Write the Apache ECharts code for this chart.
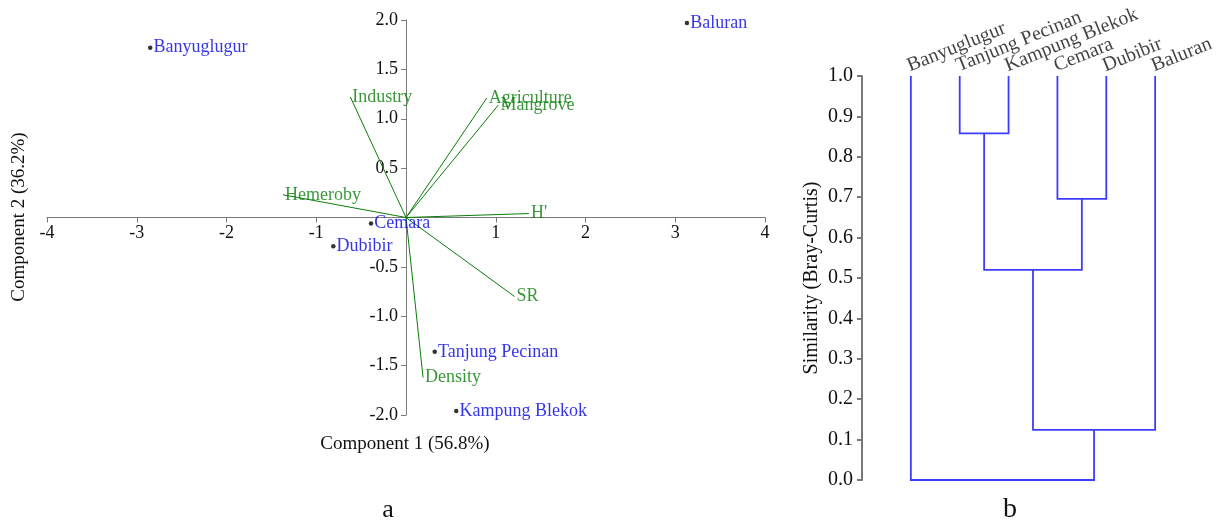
<!DOCTYPE html>
<html lang="en">
<head>
    <meta charset="UTF-8">
    <title>PCA biplot and dendrogram</title>
    <script type="text/javascript" src="https://cdnjs.cloudflare.com/ajax/libs/echarts/6.0.0/echarts.min.js"></script>
    <style>
        html, body { margin: 0; padding: 0; background: #fff; }
    </style>
</head>
<body>

<div id="main" style="width:1220px;height:523px"></div>
<script type="text/javascript">

    // panel a: site scores
    var siteNames = ['Banyuglugur', 'Baluran', 'Cemara', 'Dubibir', 'Tanjung Pecinan', 'Kampung Blekok'];
    var siteX = [-2.85, 3.13, -0.39, -0.81, 0.32, 0.56];
    var siteY = [1.72, 1.97, -0.06, -0.29, -1.36, -1.96];

    // panel a: variable loadings (arrows from origin)
    var varNames = ['Industry', 'Hemeroby', 'Agriculture', 'Mangrove', "H'", 'SR', 'Density'];
    var varX = [-0.62, -1.37, 0.90, 1.03, 1.37, 1.21, 0.19];
    var varY = [1.22, 0.23, 1.21, 1.14, 0.04, -0.80, -1.62];

    var xTicks = [-4, -3, -2, -1, 1, 2, 3, 4];
    var yTicks = [-2.0, -1.5, -1.0, -0.5, 0.5, 1.0, 1.5, 2.0];

    // panel b: dendrogram (Bray-Curtis similarity)
    var leafNames = ['Banyuglugur', 'Tanjung Pecinan', 'Kampung Blekok', 'Cemara', 'Dubibir', 'Baluran'];
    var joinA = ['Tanjung Pecinan', 'Cemara', 'M1', 'M3', 'Banyuglugur'];
    var joinB = ['Kampung Blekok', 'Dubibir', 'M2', 'Baluran', 'M4'];
    var joinHeight = [0.858, 0.696, 0.52, 0.124, 0.0];

    var serif = "'Liberation Serif', 'Times New Roman', serif";
    var green = '#0a7d0a';
    var blue = '#0000e6';
    var axisGray = '#7a7a7a';

    // grid of panel a (axes cross at the origin, in the middle of the grid)
    var gA = {left: 47, right: 455, top: 20, bottom: 108};
    var gAw = 1220 - gA.left - gA.right;
    var gAh = 523 - gA.top - gA.bottom;

    var chartDom = document.getElementById('main');
    var myChart = echarts.init(chartDom);

    var sitePoints = siteNames.map(function (n, i) { return {name: n, value: [siteX[i], siteY[i]]}; });
    var arrows = varNames.map(function (n, i) { return {coords: [[0, 0], [varX[i], varY[i]]]}; });
    var arrowEnds = varNames.map(function (n, i) { return {name: n, value: [varX[i], varY[i]]}; });

    // build dendrogram links
    var nodes = {};
    leafNames.forEach(function (n, i) { nodes[n] = {x: i + 1, h: 1.0}; });
    var links = [];
    joinA.forEach(function (a, k) {
        var A = nodes[a], B = nodes[joinB[k]], h = joinHeight[k];
        links.push({coords: [[A.x, A.h], [A.x, h], [B.x, h], [B.x, B.h]]});
        nodes['M' + (k + 1)] = {x: (A.x + B.x) / 2, h: h};
    });
    var leafPoints = leafNames.map(function (n, i) { return {name: n, value: [i + 1, 1.0]}; });

    var option = {
        animation: false,
        textStyle: {fontFamily: serif},
        grid: [
            gA,
            {left: 862, right: 16, top: 76, bottom: 43}
        ],
        xAxis: [
            {
                gridIndex: 0, type: 'value', min: -4, max: 4, interval: 1,
                offset: -gAh / 2,
                axisLine: {onZero: false, lineStyle: {color: axisGray, width: 1}},
                axisTick: {show: true, length: 5, lineStyle: {color: axisGray}},
                axisLabel: {
                    margin: 7, color: '#111', fontSize: 18, fontFamily: serif,
                    formatter: function (v) { return xTicks.indexOf(v) >= 0 ? String(v) : ''; }
                },
                splitLine: {show: false}
            },
            {
                gridIndex: 1, type: 'value', min: 0, max: 7, show: false
            }
        ],
        yAxis: [
            {
                gridIndex: 0, type: 'value', min: -2, max: 2, interval: 0.5,
                offset: -gAw / 2,
                axisLine: {onZero: false, lineStyle: {color: axisGray, width: 1}},
                axisTick: {show: true, length: 5, lineStyle: {color: axisGray}},
                axisLabel: {
                    margin: 8, color: '#111', fontSize: 18, fontFamily: serif,
                    formatter: function (v) { return yTicks.indexOf(v) >= 0 ? v.toFixed(1) : ''; }
                },
                splitLine: {show: false}
            },
            {
                gridIndex: 1, type: 'value', min: 0, max: 1, interval: 0.1,
                axisLine: {show: true, lineStyle: {color: axisGray, width: 2}},
                axisTick: {show: true, length: 5, lineStyle: {color: axisGray, width: 2}},
                axisLabel: {
                    margin: 9, color: '#111', fontSize: 20, fontFamily: serif,
                    formatter: function (v) { return v.toFixed(1); }
                },
                splitLine: {show: false}
            }
        ],
        graphic: [
            {type: 'text', x: 405, y: 444, style: {text: 'Component 1 (56.8%)', font: '19px ' + serif, fill: '#111', textAlign: 'center', textVerticalAlign: 'middle'}},
            {type: 'text', x: 19, y: 217, rotation: Math.PI / 2, style: {text: 'Component 2 (36.2%)', font: '19px ' + serif, fill: '#111', textAlign: 'center', textVerticalAlign: 'middle'}},
            {type: 'text', x: 812, y: 278, rotation: Math.PI / 2, style: {text: 'Similarity (Bray-Curtis)', font: '20px ' + serif, fill: '#111', textAlign: 'center', textVerticalAlign: 'middle'}},
            {type: 'text', x: 388, y: 510, style: {text: 'a', font: '26px ' + serif, fill: '#111', textAlign: 'center', textVerticalAlign: 'middle'}},
            {type: 'text', x: 1010, y: 510, style: {text: 'b', font: '28px ' + serif, fill: '#111', textAlign: 'center', textVerticalAlign: 'middle'}}
        ],
        series: [
            {
                type: 'lines', coordinateSystem: 'cartesian2d', xAxisIndex: 0, yAxisIndex: 0,
                data: arrows, silent: true,
                lineStyle: {color: green, width: 1, opacity: 1}
            },
            {
                type: 'scatter', xAxisIndex: 0, yAxisIndex: 0, data: arrowEnds,
                symbolSize: 0, silent: true,
                label: {show: true, position: 'right', distance: 2, formatter: '{b}', color: green, fontSize: 18, fontFamily: serif}
            },
            {
                type: 'scatter', xAxisIndex: 0, yAxisIndex: 0, data: sitePoints,
                symbolSize: 4.5, itemStyle: {color: '#000'}, silent: true,
                label: {show: true, position: 'right', distance: 1, formatter: '{b}', color: blue, fontSize: 18, fontFamily: serif}
            },
            {
                type: 'lines', coordinateSystem: 'cartesian2d', xAxisIndex: 1, yAxisIndex: 1,
                polyline: true, data: links, silent: true,
                lineStyle: {color: '#3c3cff', width: 1.8, opacity: 1}
            },
            {
                type: 'scatter', xAxisIndex: 1, yAxisIndex: 1, data: leafPoints,
                symbolSize: 0, silent: true,
                label: {show: true, position: [1, 0], align: 'left', verticalAlign: 'bottom', rotate: 22, formatter: '{b}', color: '#111', fontSize: 20, fontFamily: serif}
            }
        ]
    };

    myChart.setOption(option, true);

</script>

</body>
</html>
